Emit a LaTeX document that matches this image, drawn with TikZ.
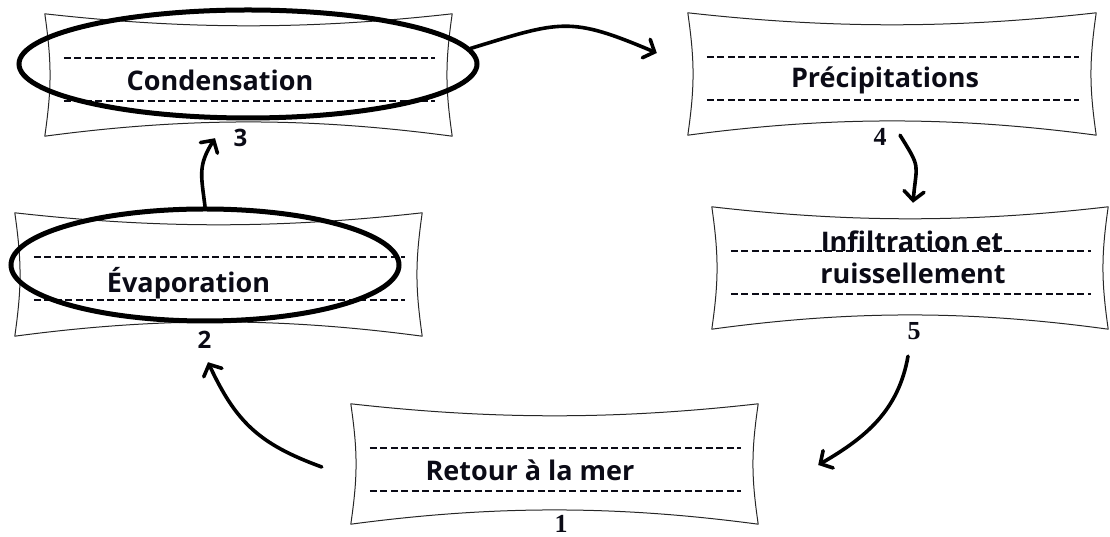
\documentclass[tikz,border=0pt]{standalone}
\usepackage{fontspec}
\setmainfont{Open Sans}
\newfontfamily\serifnum{Liberation Serif}
\usetikzlibrary{shapes.geometric,arrows.meta,calc}
\definecolor{ink}{HTML}{0B0B16}
\tikzset{
  boxnode/.style={rectangle,inner sep=0pt,draw=none},
  boxline/.style={line width=1pt,draw=black!85,line join=round},
  dashline/.style={line width=2.1pt,draw=ink,dash pattern=on 7pt off 3.5pt},
  ring/.style={ellipse,draw=black,line width=5pt,inner sep=0pt},
  lab/.style={text=ink,font=\bfseries\fontsize{27}{30}\selectfont,anchor=base,inner sep=0pt},
  numsans/.style={text=ink,font=\bfseries\fontsize{24}{26}\selectfont,inner sep=0pt},
  numserif/.style={text=ink,font=\serifnum\bfseries\fontsize{26}{28}\selectfont,inner sep=0pt},
  arr/.style={line width=3.6pt,line cap=round,-{Straight Barb[length=9pt,width=20pt,line cap=round]}},
}
\newcommand\concavebox[1]{%
  \draw[boxline] (#1.north west)
    .. controls ($(#1.north west)!0.35!(#1.north east)+(0,-16)$) and ($(#1.north east)!0.35!(#1.north west)+(0,-16)$) .. (#1.north east)
    .. controls ($(#1.north east)!0.4!(#1.south east)+(-7,0)$) and ($(#1.south east)!0.4!(#1.north east)+(-7,0)$) .. (#1.south east)
    .. controls ($(#1.south east)!0.35!(#1.south west)+(0,19)$) and ($(#1.south west)!0.35!(#1.south east)+(0,19)$) .. (#1.south west)
    .. controls ($(#1.south west)!0.4!(#1.north west)+(7,0)$) and ($(#1.north west)!0.4!(#1.south west)+(7,0)$) .. cycle;
  \draw[dashline] ($(#1.north west)+(19,-44)$) -- ($(#1.north east)+(-17,-44)$);
  \draw[dashline] ($(#1.north west)+(19,-87)$) -- ($(#1.north east)+(-17,-87)$);
}
\begin{document}
\begin{tikzpicture}[x=1pt,y=1pt]
\useasboundingbox (0,0) rectangle (1110,537);
% boxes
\node[boxnode,minimum width=407pt,minimum height=122pt] (b3) at (248.5,462) {};
\node[boxnode,minimum width=407pt,minimum height=123pt] (b2) at (218.5,262.5) {};
\node[boxnode,minimum width=408pt,minimum height=122pt] (b4) at (892,463) {};
\node[boxnode,minimum width=396pt,minimum height=122pt] (b5) at (910,269) {};
\node[boxnode,minimum width=407pt,minimum height=120pt] (b1) at (554.5,73) {};
\concavebox{b3}
\concavebox{b2}
\concavebox{b4}
\concavebox{b5}
\concavebox{b1}
% texts
\node[lab] (t3) at (220,446) {Condensation};
\node[lab] (t2) at (188.5,244) {Évaporation};
\node[lab] (t4) at (885,449) {Précipitations};
\node[lab] (t5a) at (912,285) {Infiltration et};
\node[lab] (t5b) at (913,253) {ruissellement};
\node[lab] (t1) at (530,56) {Retour à la mer};
% numbers
\node[numsans] (n3) at (240.5,399) {3};
\node[numsans] (n2) at (204.5,197) {2};
\node[numserif] (n4) at (880,400) {4};
\node[numserif] (n5) at (914,206) {5};
\node[numserif] (n1) at (561,13) {1};
% ellipses
\node[ring,minimum width=458pt,minimum height=108pt] (e3) at (248,473) {};
\node[ring,minimum width=388pt,minimum height=112pt] (e2) at (205,272) {};
% arrows
\draw[arr] (e3.4) to[out=17,in=157,looseness=1.3] ($(b4.west)+(-31,21)$);
\draw[arr] (e2.north) to[out=97,in=-122,looseness=1.2] ($(b3.south)+(-33.5,-2)$);
\draw[arr] ($(b4.south)+(8,0)$) to[out=-58,in=85,looseness=1.5] ($(b5.north)+(3,4)$);
\draw[arr] ($(b5.south)+(-2,-27)$) to[out=-100,in=30] ($(b1.east)+(60,-1)$);
\draw[arr] ($(b1.west)+(-29,-3)$) to[out=160,in=-65,looseness=1.1] ($(b2.south)+(-10.5,-26)$);
\end{tikzpicture}
\end{document}
